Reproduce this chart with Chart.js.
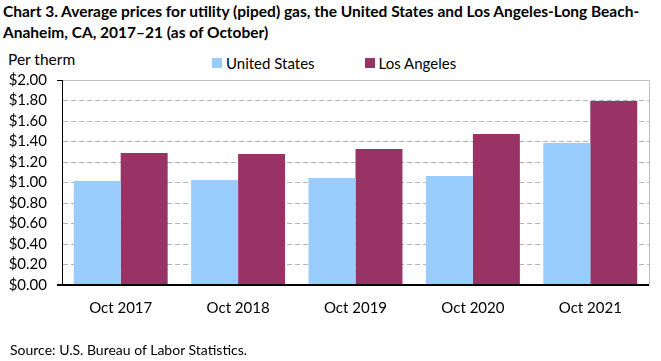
<!DOCTYPE html>
<html>
<head>
<meta charset="utf-8">
<script src="https://cdn.jsdelivr.net/npm/chart.js@4"></script>
<style>
  html, body { margin: 0; padding: 0; background: #fff; }
  #wrap { position: relative; width: 661px; height: 361px; overflow: hidden; font-family: Lato, "Open Sans", sans-serif; color: #000; }
  #title { position: absolute; left: 3px; top: 1px; font-size: 15.5px; font-weight: bold; line-height: 21px; width: 650px; }
  #unit { position: absolute; left: 8px; top: 50px; font-size: 15.5px; }
  #legend { position: absolute; left: 212px; top: 54px; font-size: 15px; display: flex; }
  #legend span.item { display: flex; align-items: center; margin-right: 50px; }
  #legend i { display: inline-block; width: 10px; height: 10px; margin-right: 4px; }
  #source { position: absolute; left: 10px; top: 341px; font-size: 14px; }
  canvas { position: absolute; left: 0; top: 0; }
</style>
</head>
<body>
<div id="wrap">
  <div id="title">Chart 3. Average prices for utility (piped) gas, the United States and Los Angeles-Long Beach-Anaheim, CA, 2017–21 (as of October)</div>
  <div id="unit">Per therm</div>
  <div id="legend"></div>
  <canvas id="chart" width="661" height="361"></canvas>
  <div id="source">Source: U.S. Bureau of Labor Statistics.</div>
</div>
<script>
// ── Data ──────────────────────────────────────────────────────
const categories = ['Oct 2017', 'Oct 2018', 'Oct 2019', 'Oct 2020', 'Oct 2021'];
const seriesNames = ['United States', 'Los Angeles'];
const usValues = [1.015, 1.024, 1.044, 1.063, 1.385];
const laValues = [1.288, 1.278, 1.327, 1.473, 1.795];
const seriesColors = ['#99ccff', '#993366'];

// ── Legend (HTML) ─────────────────────────────────────────────
const legendEl = document.getElementById('legend');
seriesNames.forEach((name, i) => {
  const item = document.createElement('span');
  item.className = 'item';
  item.innerHTML = `<i style="background:${seriesColors[i]}"></i>${name}`;
  legendEl.appendChild(item);
});

// plot-area frame: grey box, black left and bottom axes
const frame = {
  id: 'frame',
  afterDatasetsDraw(chart) {
    const { ctx, chartArea: a } = chart;
    ctx.save();
    ctx.strokeStyle = '#bfbfbf';
    ctx.lineWidth = 1;
    ctx.beginPath();
    ctx.moveTo(a.left, a.top + 0.5);
    ctx.lineTo(a.right + 0.5, a.top + 0.5);
    ctx.lineTo(a.right + 0.5, a.bottom);
    ctx.stroke();
    ctx.strokeStyle = '#000';
    ctx.beginPath();
    ctx.moveTo(a.left - 5, a.top + 0.5);
    ctx.lineTo(a.left, a.top + 0.5);
    ctx.moveTo(a.left + 0.5, a.top);
    ctx.lineTo(a.left + 0.5, a.bottom);
    ctx.stroke();
    ctx.lineWidth = 2;
    ctx.beginPath();
    ctx.moveTo(a.left - 5, a.bottom);
    ctx.lineTo(a.right, a.bottom);
    ctx.stroke();
    ctx.restore();
  }
};

const font = { family: 'Lato, "Open Sans", sans-serif', size: 15 };

new Chart(document.getElementById('chart'), {
  type: 'bar',
  data: {
    labels: categories,
    datasets: [
      { label: seriesNames[0], data: usValues, backgroundColor: seriesColors[0] },
      { label: seriesNames[1], data: laValues, backgroundColor: seriesColors[1] }
    ]
  },
  options: {
    responsive: false,
    animation: false,
    layout: { padding: { top: 80, right: 12, bottom: 0, left: 0 } },
    plugins: { legend: { display: false }, title: { display: false }, tooltip: { enabled: false } },
    datasets: { bar: { barPercentage: 1, categoryPercentage: 0.8 } },
    scales: {
      x: {
        grid: { display: false, drawTicks: false },
        border: { display: false },
        ticks: { color: '#000', font, padding: 14, autoSkip: false, maxRotation: 0 },
        afterFit(s) { s.height = 76; }
      },
      y: {
        min: 0, max: 2,
        grid: { color: '#b4b4b4', drawTicks: false },
        border: { display: true, color: 'rgba(0,0,0,0)', dash: [5, 3] },
        ticks: {
          stepSize: 0.2, autoSkip: false, color: '#000', font, padding: 15,
          callback: v => '$' + Number(v).toFixed(2)
        },
        afterFit(s) { s.width = 62; }
      }
    }
  },
  plugins: [frame]
});
</script>
</body>
</html>
